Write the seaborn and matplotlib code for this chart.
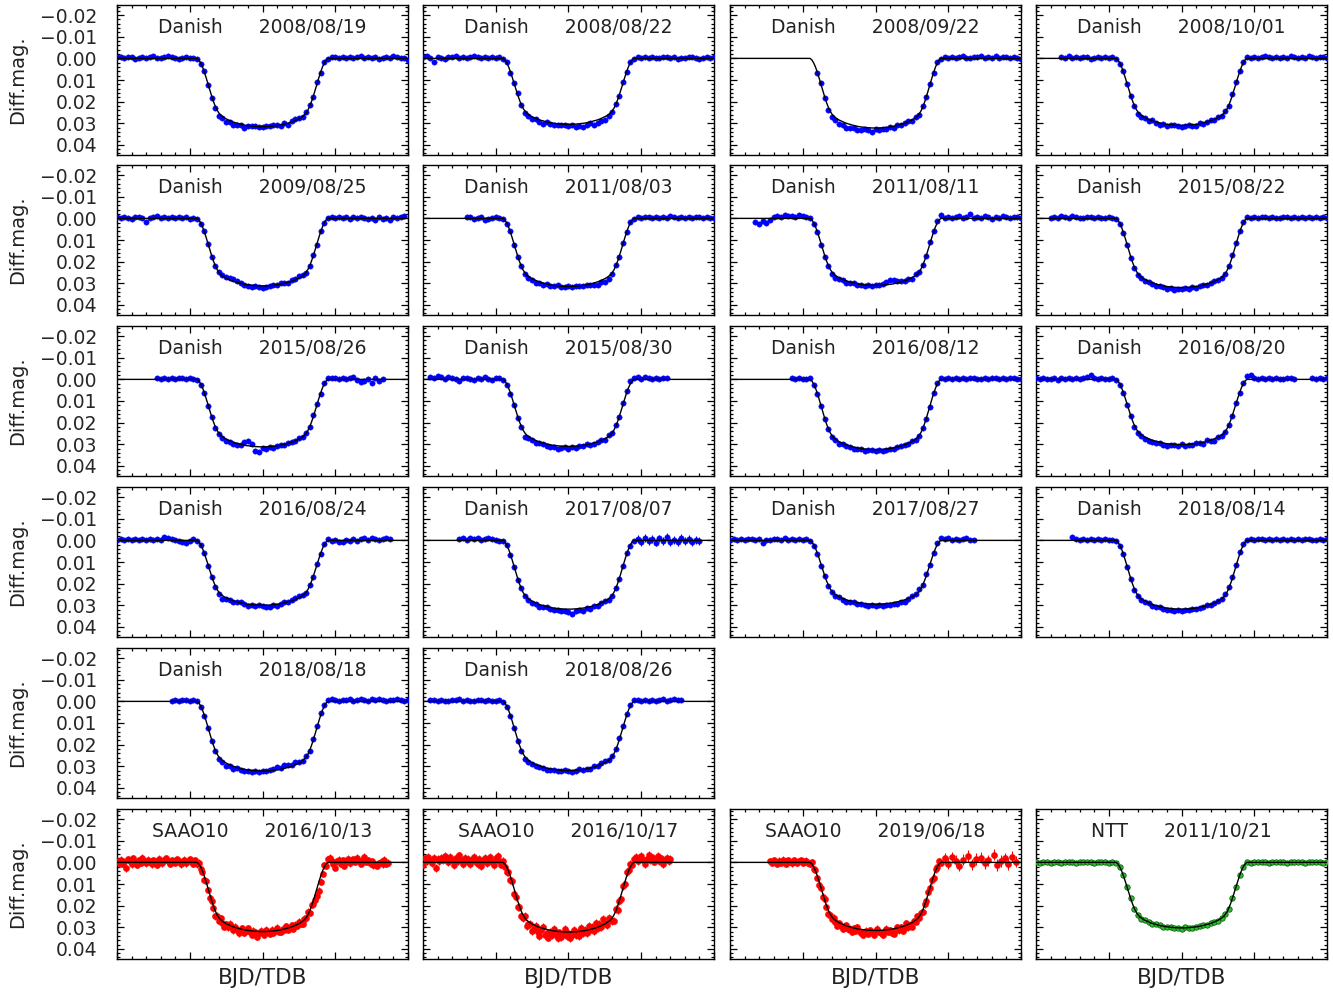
import numpy as np
import matplotlib
matplotlib.use("Agg")
import matplotlib.pyplot as plt
import seaborn as sns
from matplotlib.ticker import MultipleLocator, FuncFormatter

nan = np.nan

# fitted transit model (mmag), one half, at |t| = 0, 0.025, ..., 0.9 h
MODEL_HALF_MMAG = [
    32.3, 32.3, 32.3, 32.2, 32.2, 32.1, 32.0, 31.9, 31.8, 31.7,
    31.5, 31.3, 31.1, 30.9, 30.6, 30.4, 30.1, 29.8, 29.4, 29.0,
    28.6, 28.1, 27.5, 26.8, 25.8, 24.4, 22.6, 20.3, 17.7, 14.9,
    12.0, 9.1, 6.4, 4.0, 2.1, 0.7, 0.0,
]
STEP_H = 0.025   # grid spacing of the time axis (hours from mid-transit)
N_HALF = 80      # grid runs from -2 h to +2 h

INSTRUMENT = ["Danish"] * 18 + ["SAAO10"] * 3 + ["NTT"]
DATES = [
    "2008/08/19", "2008/08/22", "2008/09/22", "2008/10/01",
    "2009/08/25", "2011/08/03", "2011/08/11", "2015/08/22",
    "2015/08/26", "2015/08/30", "2016/08/12", "2016/08/20",
    "2016/08/24", "2017/08/07", "2017/08/27", "2018/08/14",
    "2018/08/18", "2018/08/26",
    "2016/10/13", "2016/10/17", "2019/06/18", "2011/10/21",
]
DEPTH_MMAG = [31.6, 30.5, 32.2, 31.0, 31.2, 31.5, 31.0, 32.0,
              31.2, 31.0, 32.5, 30.2, 30.0, 31.8, 29.5, 31.8,
              32.2, 32.0, 32.0, 32.2, 31.5, 30.3]
# sampling stride on the grid, and first sample index (in stride units)
STRIDE = [2] * 18 + [1, 1, 1] + [2]
FIRST = [0, 0, 24, 7, 0, 12, 7, 4, 11, 2, 17, 0, 0, 10, 0, 10, 15, 2,
         0, 0, 22, 0]
ERR_MMAG = [0.7] * 18 + [1.6, 1.8, 1.5] + [0.3]
TAIL_ERR_MMAG = [0.7] * 13 + [1.8] + [0.7] * 4 + [1.6, 1.8, 2.6] + [0.3]

# observed minus model (mmag) for each night
res_080819 = [-0.8, -0.6, -0.3, -0.7, -0.5, 0.2, -0.4, -0.6, -0.2, -0.5,
              -0.9, -0.4, -0.3, -0.6, -1.0, -0.5, -0.4, 0.1, -0.3, -0.6,
              -0.4, -0.3, 0.3, 0.6, -0.4, 0.5, 1.0, 0.8, 1.2, 0.9,
              1.5, 0.7, 1.3, 1.0, 0.5, 1.6, 0.4, 0.2, -0.3, 0.1,
              0.3, -0.2, 0.0, -0.4, -0.1, 0.3, -0.6, 1.1, -0.5, -0.8,
              -0.3, 0.2, -0.6, -0.4, 0.5, -0.6, 0.3, -0.5, 0.2, -0.7,
              -0.5, -0.3, -0.6, -0.2, -0.8, -0.4, -0.5, -1.0, -0.3, -0.6,
              -0.2, -0.5, 0.2, -0.4, -0.6, -0.3, -0.9, -0.7, -0.4, -0.2,
              0.8]
res_080822 = [-0.5, -0.9, -0.3, 1.6, -0.6, -0.4, 0.3, -0.7, -0.5, -1.2,
              -0.4, -0.8, -0.2, -0.6, -1.1, -0.5, -0.3, -0.7, -0.4, -0.6,
              -0.2, -0.5, 0.2, -0.3, 0.6, 0.2, -0.5, 0.4, 0.9, 0.6,
              1.1, 0.5, 0.8, 1.3, 0.2, 0.7, 1.0, 0.4, 0.6, 0.3,
              0.8, 0.5, 1.2, 0.9, 1.6, 1.3, 0.7, 1.8, 1.4, 1.1,
              1.7, 0.9, 0.4, -0.3, 0.5, -0.4, 0.3, -0.2, 0.1, -0.6,
              -0.3, -0.5, -0.2, -0.7, -0.4, -0.1, -0.5, -0.8, -0.3, -0.6,
              0.1, -0.4, -0.2, -0.5, -0.7, -0.3, 0.2, -0.4, -0.6, -0.2,
              -0.5]
res_080922 = [0.6, -0.4, 0.8, 1.2, 1.5, 0.9, 1.8, 1.3, 2.0, 1.6,
              1.1, 1.9, 1.4, 0.8, 1.2, 1.7, 0.6, 1.0, 0.4, 0.9,
              0.2, 0.6, -0.3, 0.4, 0.0, -0.5, 0.3, -0.2, 0.5, -0.4,
              0.2, -0.3, 0.4, -0.5, 0.3, -0.6, -0.3, -0.7, -0.2, -0.5,
              -0.9, -0.4, -0.3, -0.8, -0.5, -1.1, -0.2, -0.6, -0.4, -0.9,
              -0.3, -0.7, -0.5, -0.2, -0.6, -0.4, 0.3]
res_081001 = [-0.7, -0.4, -0.9, -0.3, -0.6, -0.2, -0.8, -0.5, 0.2, -0.4,
              -0.6, -0.3, -0.7, -0.1, -0.5, 0.3, 0.5, -0.2, 0.4, 0.6,
              0.3, 0.8, 0.5, 0.2, 0.7, -0.2, 0.4, 0.9, 0.1, 0.6,
              0.3, -0.3, 0.5, 0.8, 0.2, -0.1, 0.4, 0.6, -0.2, 0.3,
              0.1, -0.4, 0.2, -0.3, 0.4, -0.2, 0.5, -0.4, -0.6, -0.3,
              -0.5, -0.8, -0.2, -0.6, -0.4, -0.7, -1.2, -0.5, -0.3, -0.8,
              -0.4, -0.6, -0.2, -0.9, -0.5, -0.3, -0.7, -0.4, -1.0, -0.6,
              -0.3, -0.5, -0.8, -0.4]
res_090825 = [-0.6, -0.3, -0.8, -0.4, 0.3, -0.5, -0.7, -0.2, 1.6, -0.4,
              -0.6, -0.9, -0.3, -0.5, -0.1, -0.7, -0.4, -0.6, -0.2, -0.5,
              0.4, -0.3, 0.2, 0.5, -0.3, 0.4, 0.7, 0.3, -0.2, -0.6,
              -0.4, -0.8, -1.0, -0.5, -0.3, 0.2, 0.5, 0.8, 0.3, 0.6,
              0.9, 0.4, 0.2, -0.3, 0.1, -0.5, -0.2, 0.3, -0.6, -0.4,
              -0.8, -0.3, 0.2, 0.4, -0.3, 0.5, -0.4, 0.3, -0.2, -0.6,
              -0.3, -0.7, -0.4, -0.5, 0.2, -0.6, -0.2, -0.8, -0.4, 0.4,
              -0.3, 0.6, -0.5, 0.5, -0.2, 0.7, -0.6, -0.3, -0.8, -1.2]
res_110803 = [-0.5, -0.8, 0.4, -0.3, -0.6, 0.9, 0.3, -0.4, -0.7, -0.2,
              0.4, 0.6, -0.3, 0.5, 0.8, 0.2, 0.6, 0.9, 0.4, 1.1,
              0.5, 0.8, 0.2, 0.6, 0.3, -0.2, 0.4, 0.1, -0.3, 0.2,
              -0.1, 0.3, 0.5, 0.2, 0.7, 1.0, 1.4, 0.9, 1.6, 1.2,
              0.6, -0.3, 0.4, -0.5, 0.2, -0.4, 0.3, -0.6, -0.3, -0.8,
              -0.5, -0.2, -0.7, -0.4, -0.6, -0.3, -0.9, -0.5, -0.2, -0.6,
              -0.4, -0.8, -0.3, -0.5, -0.7, -0.2, -0.6, -0.4, -0.3]
res_110811 = [1.8, 2.4, 1.2, 2.0, 0.8, -0.6, -1.0, -0.8, -1.4, -0.9,
              -1.2, -0.7, -1.5, -1.1, -0.5, -0.2, 0.4, 0.2, 0.6, 1.0,
              0.5, 0.8, 1.1, 0.7, 0.3, 0.9, 0.5, 0.2, 0.6, 0.1,
              0.4, -0.2, 0.3, -0.4, 0.0, -0.6, -1.4, -2.2, -1.8, -0.9,
              -0.5, 0.2, -0.3, 0.4, -0.6, 0.2, -0.3, 0.5, -0.4, -0.2,
              -0.6, -1.5, -0.4, -0.8, -0.3, -0.5, -1.0, -0.2, -0.7, -1.8,
              -0.4, -0.6, -0.3, -0.9, -0.5, 0.2, -0.7, -0.4, -1.3, -0.6,
              -0.3, -0.8, -0.5, -0.4]
res_150822 = [-0.4, -0.7, -0.2, -0.9, -0.5, -0.3, -1.1, -0.6, -0.4, -0.2,
              -0.8, -0.5, -0.3, -0.7, -0.4, -0.1, -0.6, -0.3, 0.4, 0.6,
              0.2, 0.5, 0.9, 0.4, 0.7, 0.3, 0.6, 0.1, 0.5, 0.8,
              0.3, 0.6, 1.0, 0.7, 1.3, 0.5, 0.9, 0.4, 0.8, 0.2,
              0.6, 0.3, -0.2, 0.4, 0.1, -0.3, 0.2, 0.5, 0.3, -0.4,
              -0.6, -0.3, -0.5, -0.2, -0.7, -0.4, -0.6, -0.2, -0.5, -0.8,
              -0.3, -0.6, -0.4, -0.2, -0.7, -0.5, -0.3, -0.6, -0.4, -0.8,
              -0.2, -0.5, -0.3, -0.7, -0.4, -0.6, -0.3]
res_150826 = [-0.5, -0.3, -0.8, -0.4, -0.6, -0.2, -0.7, -0.5, -0.3, -0.6,
              -0.4, 0.3, 0.5, 0.2, 0.6, 0.4, 0.8, 0.3, 0.7, 1.0,
              0.5, 0.9, 0.6, 0.4, -1.6, -2.0, -0.8, 1.8, 2.2, 0.6,
              0.9, 0.4, 0.7, 0.3, -0.2, 0.4, 0.1, -0.3, 0.2, -0.4,
              0.3, -0.2, 0.1, -0.5, -0.3, 0.4, -0.2, -0.8, -0.5, -0.7,
              -0.4, -0.6, -0.3, -0.5, -0.9, 0.4, 1.2, 0.9, -0.3, 1.6,
              -0.6, 0.8, -0.4]
res_150830 = [-1.2, -0.6, -1.6, -0.9, -0.4, -1.1, -0.7, -0.3, 0.6, -0.5,
              -0.8, -0.2, 0.5, -0.6, -0.3, -0.9, -0.4, 0.3, -0.7, -0.5,
              0.2, 0.4, 0.7, 0.3, 0.8, 0.5, 1.8, 0.9, 0.6, 1.1,
              0.7, 0.4, 0.9, 1.2, 0.6, 1.4, 0.8, 0.5, 1.0, 0.3,
              0.7, 0.2, 0.5, -0.2, 0.3, 0.6, 0.1, -0.3, 0.4, -0.5,
              0.2, -0.4, 0.3, -0.6, -0.8, -1.3, -0.5, -0.9, -0.3, -1.1,
              -0.6, -0.4, -0.8, -0.2, -0.7, -0.5]
res_160812 = [-0.5, -0.3, -0.7, -0.4, -0.2, -0.6, 0.3, 0.5, 0.2, 0.6,
              0.4, 0.8, 0.3, 0.9, 0.5, 0.7, 0.4, 1.0, 0.6, 0.3,
              0.8, 0.5, 0.2, 0.6, 0.4, 0.7, 0.3, 0.1, 0.5, 0.2,
              -0.2, 0.3, 0.1, -0.3, 0.4, 0.2, -0.4, 0.3, 0.5, -0.2,
              -0.4, -0.6, -0.3, -0.5, -0.2, -0.7, -0.4, -0.6, -0.3, -0.5,
              -0.8, -0.4, -0.2, -0.6, -0.3, -0.7, -0.5, -0.4, -0.6, -0.3,
              -0.5, -0.8, -0.4, -0.2]
res_160820 = [-0.5, -0.3, -0.7, -0.4, -0.2, -0.6, 0.4, -0.5, -0.3, -0.8,
              -0.4, -0.6, -0.2, -0.7, -1.0, -1.8, -0.5, -0.3, -0.6, -0.4,
              -0.2, -0.5, 0.3, 0.6, 0.2, 0.7, 0.5, 1.1, 0.8, 0.4,
              0.9, 1.2, 0.6, 0.8, 0.3, 0.7, 1.0, 0.5, 0.2, 0.6,
              -0.2, 0.4, 0.1, 0.5, -0.3, 0.2, 0.6, -0.4, 0.3, 0.8,
              -0.2, 0.5, 0.3, -0.2, 0.4, -0.3, 0.2, -0.5, -1.6, -2.0,
              -0.8, -0.4, -0.7, -0.3, -0.5, -0.2, -0.6, -0.4, -0.3, -0.8,
              -0.5, -0.2, nan, nan, nan, nan, -0.6, -0.3, -0.7, -0.4,
              -0.5]
res_160824 = [-0.4, -0.7, -0.3, -0.5, -0.2, -0.6, -0.4, -0.8, -0.3, -0.5,
              -0.2, -0.7, -0.4, -1.4, -1.0, -0.5, -0.3, 0.2, 0.8, 1.1,
              0.3, -0.6, 0.2, 0.4, -0.3, 0.5, 0.3, 0.6, 1.0, 1.5,
              0.7, 0.2, 0.6, 0.3, -0.2, 0.4, 0.8, 0.1, 0.5, -0.3,
              0.2, 0.6, 0.9, 0.3, 0.7, 0.2, -0.4, 0.3, -0.2, -0.5,
              -0.8, -0.3, 0.4, -0.2, 0.5, -0.3, 0.2, -0.4, -0.6, 0.3,
              -0.2, 0.6, 0.9, -0.4, 0.4, -0.7, 0.2, -0.5, -0.9, -0.3,
              -1.2, -0.6, -0.2, -0.8, -1.3, -0.5]
res_170807 = [-0.5, -0.9, -0.3, -1.2, -0.6, -1.0, -0.4, -0.8, -1.3, -0.5,
              -0.2, 0.3, 0.5, 0.2, 0.6, 0.4, 0.7, -0.2, 0.3, 0.5,
              0.8, 0.4, 1.0, 0.6, 0.3, 0.7, 0.9, 0.5, 1.2, 0.8,
              1.5, 2.4, 1.1, 0.7, 1.3, 0.5, 0.9, 0.3, 0.6, 0.2,
              -0.3, 0.4, 0.1, -0.2, 0.5, 0.2, -0.4, 0.3, 0.4, -0.8,
              0.6, -1.2, 0.3, -0.6, 1.0, -0.9, 0.2, -1.4, 0.7, -0.3,
              0.9, -1.1, 0.4, -0.5, 0.8, -0.2, 0.3]
res_170827 = [-0.4, -0.7, -0.3, -0.6, -0.2, -0.5, -0.8, -0.3, -0.6, 1.4,
              -0.4, -0.2, -0.7, -0.5, -0.3, -0.9, -0.4, -0.6, -0.2, -0.5,
              -0.3, -0.6, 0.2, 0.5, 0.3, 0.8, 0.4, 0.6, 0.3, 0.7,
              0.2, 0.5, 0.8, 0.4, 0.1, 0.6, 0.3, 0.7, 0.9, 0.5,
              0.8, 0.4, 1.0, 0.6, 0.9, 0.7, 1.1, 0.5, 0.8, 0.3,
              -0.6, -0.3, -0.9, 0.2, -0.4, 0.3, -0.2, -0.5, -1.3, -0.8,
              -1.0, -0.4, -0.7, -0.3, -0.6, -0.9, -0.4, -0.2]
res_180814 = [-1.6, -0.6, -0.3, -0.5, -0.2, -0.7, -0.4, -0.6, -0.3, -0.5,
              -0.2, -0.4, 0.3, 0.6, 0.2, 0.5, 0.4, 0.8, 0.3, 0.6,
              0.4, 0.2, 0.5, 0.7, 0.3, 0.6, 0.9, 0.5, 0.8, 0.4,
              0.7, 0.3, 0.6, 0.2, 0.5, 0.1, 0.4, -0.2, 0.3, 0.1,
              -0.3, 0.2, -0.4, -0.6, -0.3, -0.5, -0.8, -0.4, -0.2, -0.6,
              -0.3, -0.7, -0.5, -0.2, -0.6, -0.4, -0.8, -0.3, -0.5, -0.2,
              -0.7, -0.4, -0.6, -0.3, -0.5, -0.8, -0.4, -0.2, -0.6, -0.3,
              -0.5]
res_180818 = [-0.4, -0.7, -0.2, -0.5, -0.8, -0.3, -0.6, -0.4, 0.3, 0.6,
              0.2, 0.7, 0.4, 1.0, 0.6, 1.2, 0.8, 1.1, 0.5, 0.9,
              0.6, 0.3, 0.7, 0.2, 0.4, -0.2, 0.1, -0.5, -0.8, -1.2,
              -0.6, -1.4, -0.9, -0.5, -1.1, -0.3, 0.2, -0.4, 0.3, -0.2,
              -0.5, -0.9, -0.4, -0.7, -1.2, -0.6, -0.3, -0.8, -0.5, -1.0,
              -0.4, -0.7, -1.3, -0.6, -0.3, -0.9, -0.5, -1.1, -0.7, -0.4,
              -0.8, -0.6, -1.0, -0.5, -0.3, -0.7]
res_180826 = [-0.5, -0.8, -0.3, -0.6, -0.4, -0.2, -0.7, -0.5, -0.9, -0.3,
              -0.6, -0.4, -0.2, -0.8, -0.5, -0.3, -0.6, -0.4, -0.2, -0.5,
              0.3, 0.6, 0.2, 0.5, 0.8, 0.4, 1.0, 0.7, 0.5, 0.9,
              0.6, 0.3, 0.8, 0.4, 0.1, 0.5, 0.3, -0.2, 0.4, 0.6,
              0.2, -0.3, 0.4, 0.1, 0.3, -0.2, 0.2, -0.4, -0.6, -0.3,
              -0.5, -0.2, -0.7, -0.4, -0.6, -0.3, -0.8, -0.5, -0.2, -0.6,
              -0.4, -0.7, -0.3, -0.5, -0.9, -0.4, -0.6, -1.3, -0.5, -0.8]
res_saao_161013 = [-0.8, 0.4, -1.2, 0.6, -0.3, 2.8, -1.5, -0.6, 0.9, -1.8,
                   -0.4, 1.1, -0.9, 0.2, -2.2, -0.7, 0.5, -1.3, -0.2, 0.8,
                   -1.0, -0.5, 1.2, -1.6, -0.3, 0.4, -0.9, -2.0, -0.6, 0.7,
                   -1.1, -0.4, 0.3, -1.4, -0.8, 0.9, -0.2, -1.2, 0.5, -0.7,
                   -1.5, -0.3, 0.6, -0.9, 0.8, -0.5, 1.2, 0.3, 1.6, -0.4,
                   0.9, 1.8, 0.2, 1.1, 2.6, 0.5, 1.4, -0.6, 0.8, 1.9,
                   0.3, 1.2, -0.8, 0.6, 1.5, -0.3, 0.9, 2.1, 0.4, -0.5,
                   1.3, 0.2, -1.1, 0.8, 1.7, -0.2, 0.5, 2.6, 0.9, -0.4,
                   0.7, 1.4, -0.9, 0.3, 1.1, -0.6, 0.8, 0.2, -1.2, 0.6,
                   1.0, -0.3, 0.4, -1.0, 0.9, 0.3, -0.7, 1.2, -0.2, 0.5,
                   -0.9, 0.6, 1.1, -0.4, 0.3, -1.3, 0.8, -0.5, 1.6, 2.8,
                   3.5, 4.2, 2.6, 1.4, -0.8, 0.9, -1.5, -2.2, -0.6, 0.9,
                   2.4, -0.5, -1.2, 0.7, -0.9, 1.5, -0.3, -1.6, 0.4, -0.8,
                   -1.4, -0.2, -2.1, -0.7, 0.6, -1.1, -2.6, -0.4, -1.0, 0.5,
                   -0.6, 1.3, 0.8, 1.6, 0.4, -0.3, 0.9, -1.2, 0.6, 0.2]
res_saao_161017 = [1.2, -1.8, -0.6, -2.4, -1.1, 0.3, -2.0, 2.6, -1.4, -0.5,
                   -2.2, -0.9, -3.0, -1.6, -0.3, -2.5, -1.0, 1.4, -1.9, -0.7,
                   -3.2, -1.3, 0.6, -2.1, -0.8, -1.7, 0.9, -1.2, -2.4, -0.4,
                   0.8, -1.5, 1.9, -0.6, -2.0, 0.4, -1.1, -2.6, -0.2, 1.2,
                   -1.8, -3.1, -0.5, 1.0, -0.8, 1.5, 2.4, 0.6, 1.9, -0.4,
                   2.8, 1.1, 3.2, 0.5, 2.2, 1.6, -0.8, 2.9, 1.3, 0.4,
                   3.4, 1.8, 0.2, 2.5, 4.1, 1.0, -0.5, 2.7, 1.5, 3.6,
                   0.8, 2.2, -0.9, 1.6, 3.0, 0.4, 2.4, 1.1, -1.2, 1.9,
                   0.6, 2.8, 1.3, -0.7, 1.7, 0.3, 2.1, -1.5, 0.9, -0.3,
                   1.4, -1.8, 0.5, -0.9, 1.2, -2.2, 0.2, -1.1, 0.8, -2.6,
                   -0.6, 0.9, -1.9, -0.4, 1.5, 2.6, -0.8, 1.9, 0.4, 2.3,
                   -1.2, 0.7, -2.0, -0.5, -1.4, 0.3, -1.7, -2.4, -0.6, -1.9,
                   -3.1, -1.0, 0.8, -1.6, -3.6, -0.9, -2.3, -0.4, -1.5, -2.8,
                   -0.7, -1.8, 0.6, -1.2, -2.1, -0.5, -1.4]
res_saao_190618 = [-0.6, 0.4, -1.1, -0.3, 0.8, -0.8, 0.2, -1.3, -0.5, 0.6,
                   -0.9, -0.2, 0.5, -1.0, -0.4, 0.3, -0.7, -1.2, 0.1, -0.5,
                   -0.8, 0.4, 0.6, -0.7, 1.1, -0.3, 0.9, 1.6, 0.2, 1.3,
                   -0.5, 0.8, 2.0, 0.4, 1.2, -0.6, 0.7, 1.8, 0.3, 1.1,
                   2.2, 0.5, -0.4, 1.4, 0.8, 1.9, 0.2, 1.3, -0.7, 0.6,
                   1.7, 2.4, 0.9, 0.3, 1.5, -0.2, 0.8, 1.9, 0.4, -0.9,
                   0.6, 1.2, 2.1, 0.5, -0.6, 1.0, 0.3, 1.6, 2.5, 0.7,
                   -0.4, 1.3, 0.2, 2.0, 0.9, -0.8, 1.4, 0.5, 1.8, -0.3,
                   0.7, -1.1, 0.4, -0.6, 0.9, -0.4, 0.6, -0.9, 0.3, -0.5,
                   0.8, -0.7, 0.2, -1.2, 0.4, nan, -1.8, nan, 0.6, nan,
                   -2.4, nan, -0.8, nan, 1.5, nan, -1.2, nan, nan, -3.0,
                   nan, 0.9, nan, -1.6, nan, nan, -2.2, nan, 0.4, nan,
                   -1.0, nan, nan, -3.5, nan, 1.2, nan, -0.6, nan, -1.9,
                   nan, 0.7, nan, -2.6, nan, -0.4]
res_ntt_111021 = [-0.2, 0.1, -0.3, 0.0, 0.2, -0.1, -0.4, 0.1, -0.2, 0.0,
                  -0.3, 0.1, -0.1, -0.4, 0.0, -0.2, 0.2, -0.1, 0.0, -0.3,
                  0.1, -0.2, 0.3, 0.1, -0.2, 0.2, -0.1, 0.3, 0.0, 0.2,
                  -0.1, 0.1, 0.3, -0.2, 0.0, 0.2, 0.1, -0.1, 0.2, 0.0,
                  0.3, -0.2, 0.1, 0.4, 0.2, -0.1, 0.0, 0.2, -0.2, 0.1,
                  0.3, 0.0, -0.1, 0.2, -0.2, 0.1, -0.1, 0.0, -0.3, 0.1,
                  -0.2, 0.0, -0.1, -0.3, 0.1, -0.2, 0.0, -0.4, -0.1, 0.1,
                  -0.2, 0.0, -0.3, -0.1, 0.1, -0.4, -0.2, 0.0, -0.1, 0.1,
                  -0.2]

RESIDUALS = [res_080819, res_080822, res_080922, res_081001,
             res_090825, res_110803, res_110811, res_150822,
             res_150826, res_150830, res_160812, res_160820,
             res_160824, res_170807, res_170827, res_180814,
             res_180818, res_180826,
             res_saao_161013, res_saao_161017, res_saao_190618,
             res_ntt_111021]

# colours per instrument
FACE = {"Danish": "#0000ff", "SAAO10": "#ff0000", "NTT": "#33bb33"}
EDGE = {"Danish": "#0000ff", "SAAO10": "#ff0000", "NTT": "#006600"}
SIZE = {"Danish": 15, "SAAO10": 20, "NTT": 15}

# panel slots (row, col) in the 6 x 4 layout
SLOTS = [(r, c) for r in range(4) for c in range(4)] + [(4, 0), (4, 1)] + \
        [(5, c) for c in range(4)]

sns.set_style("ticks")
plt.rcParams["font.family"] = ["DejaVu Sans"]

W, H = 1333, 994
fig = plt.figure(figsize=(W / 100, H / 100), dpi=100)

col_left = [117, 423, 730, 1036]
row_top = [5, 165, 326, 487, 648, 809]
pw, ph = 291, 150

k_grid = np.arange(-N_HALF, N_HALF + 1)
t_grid = k_grid * STEP_H
half = np.array(MODEL_HALF_MMAG + [0.0] * (N_HALF + 1 - len(MODEL_HALF_MMAG)))
model_ref = half[np.abs(k_grid)]


def mag_fmt(v, pos):
    if abs(v) < 1e-9:
        v = 0.0
    return f"{v:.2f}".replace("-", "\u2212")


for p, (r, c) in enumerate(SLOTS):
    ax = fig.add_axes([col_left[c] / W, 1 - (row_top[r] + ph) / H, pw / W, ph / H])
    inst = INSTRUMENT[p]
    model = model_ref * DEPTH_MMAG[p] / model_ref.max()

    res = np.array(RESIDUALS[p], dtype=float)
    idx = (np.arange(len(res)) + FIRST[p]) * STRIDE[p]
    t = t_grid[idx]
    mag = (model[idx] + res) / 1000.0
    err = np.where(t > 0.9, TAIL_ERR_MMAG[p], ERR_MMAG[p]) / 1000.0
    ok = ~np.isnan(mag)

    ax.errorbar(t[ok], mag[ok], yerr=err[ok], fmt="none",
                ecolor=FACE[inst], elinewidth=0.8, capsize=0, zorder=2)
    sns.scatterplot(x=t[ok], y=mag[ok], ax=ax, color=FACE[inst],
                    edgecolor=EDGE[inst], linewidth=0.6 if inst == "NTT" else 0.3,
                    s=SIZE[inst], zorder=3)
    sns.lineplot(x=t_grid, y=model / 1000.0, ax=ax, color="black",
                 linewidth=1.0, zorder=4)

    ax.set_xlim(-2.0, 2.0)
    ax.set_ylim(0.0447, -0.0247)
    ax.xaxis.set_major_locator(MultipleLocator(1.0))
    ax.xaxis.set_minor_locator(MultipleLocator(0.2))
    ax.yaxis.set_major_locator(MultipleLocator(0.01))
    ax.yaxis.set_minor_locator(MultipleLocator(0.002))
    ax.yaxis.set_major_formatter(FuncFormatter(mag_fmt))
    ax.tick_params(which="both", direction="in", top=True, right=True,
                   color="black", width=0.9)
    ax.tick_params(which="major", length=5)
    ax.tick_params(which="minor", length=2.5)
    ax.tick_params(axis="x", labelbottom=False)
    ax.tick_params(axis="y", labelsize=13.5, pad=14, labelleft=(c == 0))
    for s in ax.spines.values():
        s.set_linewidth(1.0)
        s.set_color("black")
    ax.set_xlabel("")
    ax.set_ylabel("")

    ax.text(0.5, 0.85, f"{inst}      {DATES[p]}", transform=ax.transAxes,
            ha="center", va="center", fontsize=13.5, color="#222222")

for r in range(6):
    fig.text(18 / W, 1 - (row_top[r] + ph / 2) / H, "Diff.mag.",
             rotation=90, ha="center", va="center", fontsize=14, color="#222222")
for c in range(4):
    fig.text((col_left[c] + pw / 2) / W, 1 - 978 / H, "BJD/TDB",
             ha="center", va="center", fontsize=15.5, color="#222222")

fig.savefig("out.png", dpi=100)
